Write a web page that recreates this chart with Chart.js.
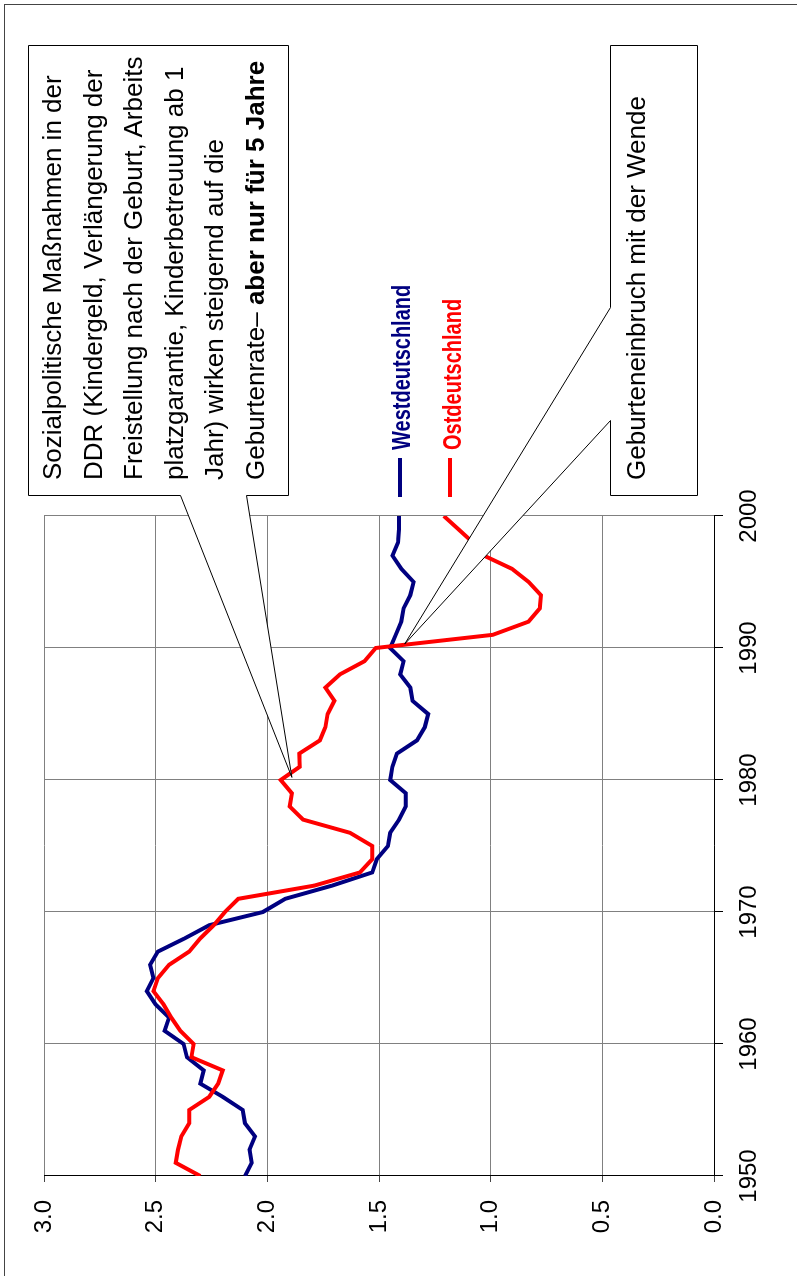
<!DOCTYPE html>
<html lang="de">
<head>
<meta charset="utf-8">
<title>Geburtenrate in West- und Ostdeutschland 1950–2000</title>
<script src="https://cdn.jsdelivr.net/npm/chart.js@4"></script>
<style>
  html, body { margin: 0; padding: 0; overflow: hidden; background: #fff; }
  /* the chart is laid out in landscape and turned a quarter to the left */
  #wrap {
    position: absolute; left: 0; top: 1276px;
    width: 1276px; height: 797px;
    transform: rotate(-90deg); transform-origin: 0 0;
    font-family: "Liberation Sans", Arial, sans-serif;
  }
  #chart { position: absolute; left: 0; top: 0; }
  .note { position: absolute; font-size: 26px; line-height: 40.6px; white-space: pre; color: #000; }
  .key { position: absolute; font-weight: bold; font-size: 25px; line-height: 25px; white-space: pre;
         transform: scaleX(0.8); transform-origin: 0 0; }
</style>
</head>
<body>
<div id="wrap">
  <canvas id="chart" width="1276" height="797"></canvas>
  <div class="note" style="left:796px; top:32px;">Sozialpolitische Maßnahmen in der
DDR (Kindergeld, Verlängerung der
Freistellung nach der Geburt, Arbeits
platzgarantie, Kinderbetreuung ab 1
Jahr) wirken steigernd auf die
Geburtenrate– <b>aber nur für 5 Jahre</b></div>
  <div class="note" style="left:796px; top:616px;">Geburteneinbruch mit der Wende</div>
  <div class="key" style="left:826px; top:389px; color:#000080;">Westdeutschland</div>
  <div class="key" style="left:826px; top:440px; color:#ff0000;">Ostdeutschland</div>
</div>
<script>
// Total fertility rate, 1950-2000
const years = [];
for (let y = 1950; y <= 2000; y++) years.push(y);

const westRate = [
  2.10, 2.07, 2.08, 2.055, 2.10, 2.11, 2.20, 2.30, 2.285, 2.36,
  2.375, 2.46, 2.44, 2.50, 2.54, 2.51, 2.525, 2.49, 2.37, 2.26,
  2.02, 1.92, 1.71, 1.53, 1.51, 1.46, 1.45, 1.41, 1.38, 1.38,
  1.45, 1.44, 1.42, 1.33, 1.295, 1.28, 1.35, 1.36, 1.405, 1.39,
  1.45, 1.425, 1.40, 1.39, 1.36, 1.345, 1.40, 1.44, 1.415, 1.41,
  1.41
];
const eastRate = [
  2.30, 2.41, 2.40, 2.385, 2.35, 2.35, 2.26, 2.22, 2.20, 2.34,
  2.33, 2.39, 2.43, 2.465, 2.51, 2.49, 2.44, 2.35, 2.30, 2.24,
  2.19, 2.13, 1.79, 1.585, 1.53, 1.53, 1.63, 1.84, 1.90, 1.89,
  1.94, 1.855, 1.857, 1.765, 1.74, 1.73, 1.70, 1.74, 1.675, 1.565,
  1.515, 0.99, 0.83, 0.78, 0.775, 0.83, 0.905, 1.03, 1.08, 1.145,
  1.21
];

const seriesNames = ["Westdeutschland", "Ostdeutschland"];
const seriesColors = ["#000080", "#ff0000"];

// callout tips: [year, rate]
const noteTips = [[1980.2, 1.89], [1990.3, 1.385]];

const toPoints = (vals) => years.map((yr, i) => ({ x: yr, y: vals[i] }));

// legend keys, callout boxes and the outer frame
const extras = {
  id: "extras",
  afterDatasetsDraw(chart) {
    const { ctx, scales: { x, y } } = chart;
    ctx.save();

    // short line keys in front of the series names
    ctx.lineWidth = 4;
    [[400, seriesColors[0]], [450, seriesColors[1]]].forEach(([v, c]) => {
      ctx.strokeStyle = c;
      ctx.beginPath();
      ctx.moveTo(779, v);
      ctx.lineTo(818, v);
      ctx.stroke();
    });

    const tip = (t) => [x.getPixelForValue(t[0]), y.getPixelForValue(t[1])];
    const t1 = tip(noteTips[0]);
    const t2 = tip(noteTips[1]);

    ctx.lineWidth = 1;
    ctx.strokeStyle = "#000";
    ctx.fillStyle = "#fff";

    // box with the DDR note
    ctx.beginPath();
    ctx.moveTo(780.5, 28.5);
    ctx.lineTo(1230.5, 28.5);
    ctx.lineTo(1230.5, 288.5);
    ctx.lineTo(780.5, 288.5);
    ctx.lineTo(780.5, 246.5);
    ctx.lineTo(t1[0], t1[1]);
    ctx.lineTo(780.5, 180.5);
    ctx.closePath();
    ctx.fill();
    ctx.stroke();

    // box for the 1990 drop
    ctx.beginPath();
    ctx.moveTo(780.5, 610.5);
    ctx.lineTo(855.5, 610.5);
    ctx.lineTo(t2[0], t2[1]);
    ctx.lineTo(968.5, 610.5);
    ctx.lineTo(1230.5, 610.5);
    ctx.lineTo(1230.5, 697.5);
    ctx.lineTo(780.5, 697.5);
    ctx.closePath();
    ctx.fill();
    ctx.stroke();

    // outer frame
    ctx.strokeStyle = "#444";
    ctx.strokeRect(-10, 4.5, 1281.5, 900);
    ctx.restore();
  }
};

new Chart(document.getElementById("chart"), {
  type: "line",
  data: {
    datasets: [
      {
        label: seriesNames[0],
        data: toPoints(westRate),
        borderColor: seriesColors[0],
        borderWidth: 4,
        pointRadius: 0,
        tension: 0,
        order: 1
      },
      {
        label: seriesNames[1],
        data: toPoints(eastRate),
        borderColor: seriesColors[1],
        borderWidth: 4,
        pointRadius: 0,
        tension: 0,
        order: 0
      }
    ]
  },
  options: {
    responsive: false,
    animation: false,
    layout: { padding: { left: 0, top: 44, right: 516, bottom: 0 } },
    plugins: { legend: { display: false }, tooltip: { enabled: false } },
    scales: {
      x: {
        type: "linear",
        min: 1950,
        max: 2000,
        afterFit: (s) => { s.height = 83; },
        grid: { color: "#808080", tickColor: "#000", tickLength: 9 },
        border: { color: "#000" },
        ticks: {
          stepSize: 10,
          padding: 12,
          color: "#000",
          font: { family: "'Liberation Sans', Arial", size: 24 },
          maxRotation: 0,
          callback: (v) => String(v)
        }
      },
      y: {
        min: 0,
        max: 3,
        afterFit: (s) => { s.width = 100; },
        grid: { color: "#808080", tickColor: "#444", tickLength: 6 },
        border: { color: "#000" },
        ticks: {
          stepSize: 0.5,
          padding: 18,
          color: "#000",
          font: { family: "'Liberation Sans', Arial", size: 24 },
          callback: (v) => v.toFixed(1)
        }
      }
    }
  },
  plugins: [extras]
});
</script>
</body>
</html>
